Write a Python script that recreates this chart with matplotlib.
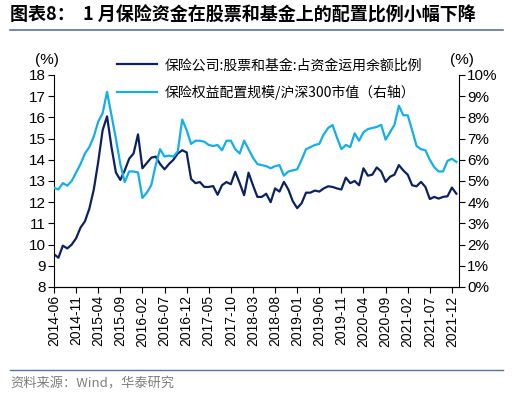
import numpy as np
import pandas as pd
import matplotlib.pyplot as plt

plt.rcParams['font.family'] = ['Liberation Sans', 'Noto Sans CJK SC', 'DejaVu Sans']

# monthly data 2014-06 .. 2022-01
months = pd.date_range('2014-06', periods=92, freq='MS').strftime('%Y-%m').tolist()

# 保险公司:股票和基金:占资金运用余额比例 (%), left axis
stock_fund = [9.55, 9.38, 9.95, 9.82, 10.0, 10.3, 10.8, 11.1, 11.7, 12.6,
              13.9, 15.4, 16.05, 14.6, 13.4, 13.05, 13.5, 14.05, 14.3, 15.2,
              13.6, 13.85, 14.1, 14.15, 13.8, 13.55, 13.8, 14.0, 14.3, 14.45,
              14.35, 13.1, 12.9, 12.95, 12.72, 12.72, 12.76, 12.35, 12.8, 12.95,
              12.85, 13.43, 12.9, 12.33, 13.39, 12.8, 12.25, 12.25, 12.4, 12.0,
              12.65, 12.5, 12.96, 12.6, 12.05, 11.72, 11.95, 12.45, 12.45, 12.55,
              12.5, 12.65, 12.75, 12.72, 12.65, 12.6, 13.16, 12.9, 13.0, 12.8,
              13.6, 13.25, 13.3, 13.64, 13.45, 12.96, 13.2, 13.3, 13.75, 13.5,
              13.3, 12.8, 12.75, 12.96, 12.72, 12.15, 12.25, 12.17, 12.25, 12.28,
              12.69, 12.4]

# 保险权益配置规模/沪深300市值 (%), right axis
equity_ratio = [4.68, 4.6, 4.9, 4.78, 5.0, 5.4, 5.8, 6.3, 6.6, 7.1,
                7.8, 8.2, 9.2, 8.1, 7.0, 5.8, 4.95, 5.45, 5.45, 5.4,
                4.2, 4.45, 4.8, 5.75, 6.5, 6.15, 6.2, 6.15, 6.4, 7.9,
                7.4, 6.75, 6.9, 6.9, 6.85, 6.7, 6.65, 6.7, 6.45, 6.9,
                6.9, 6.5, 6.3, 6.9, 6.5, 6.1, 5.8, 5.75, 5.7, 5.6,
                5.7, 5.75, 5.25, 5.45, 5.5, 5.55, 6.0, 6.5, 6.6, 6.7,
                6.75, 7.2, 7.5, 7.64, 7.05, 6.5, 6.7, 6.6, 7.25, 6.9,
                7.3, 7.45, 7.5, 7.55, 7.65, 6.95, 7.3, 7.65, 8.55, 8.1,
                8.1, 7.4, 6.65, 6.5, 6.45, 6.0, 5.65, 5.45, 5.45, 5.95,
                6.05, 5.9]

dark = '#0B2260'
light = '#14AEE8'
cjk = ['Noto Sans CJK SC', 'Liberation Sans']

fig = plt.figure(figsize=(5.16, 3.95), dpi=100)
ax = fig.add_axes([54/516, 1-287/395, (459-54)/516, (287-75)/395])
ax2 = ax.twinx()

x = np.arange(len(months))
l1, = ax.plot(x, stock_fund, color=dark, lw=1.6, label='保险公司:股票和基金:占资金运用余额比例')
l2, = ax2.plot(x, equity_ratio, color=light, lw=1.6, label='保险权益配置规模/沪深300市值（右轴）')

ax.set_xlim(0, 91.6)
ax.set_ylim(8, 18)
ax2.set_ylim(0, 10)
ax.set_yticks(range(8, 19))
ax2.set_yticks(range(0, 11))
ax2.set_yticklabels([f'{v}%' for v in range(0, 11)])
ax.set_xticks(x[::5])
ax.set_xticklabels(months[::5], rotation=90)

for a in (ax, ax2):
    a.spines['top'].set_visible(False)
    a.tick_params(direction='out', length=4, width=0.8, labelsize=11, pad=2)
ax.tick_params(axis='x', labelsize=10)
ax.spines['right'].set_visible(False)
ax2.spines['left'].set_visible(False)

ax.legend(handles=[l1, l2], loc='upper left', bbox_to_anchor=(0.142, 1.105),
          frameon=False, handlelength=2.9, handletextpad=0.5, labelspacing=0.9,
          borderaxespad=0, prop={'family': cjk, 'size': 10})

fig.text(47/516, 1-60/395, '(%)', ha='center', va='center', fontsize=11)
fig.text(462/516, 1-60/395, '(%)', ha='center', va='center', fontsize=11)

fig.text(10/516, 1-15/395, '图表8：  1 月保险资金在股票和基金上的配置比例小幅下降',
         ha='left', va='center', fontsize=13, fontweight='bold', family=cjk)
fig.add_artist(plt.Line2D([10/516, 503/516], [1-30/395, 1-30/395], color='#5B7396', lw=1.2))
fig.add_artist(plt.Line2D([10/516, 503/516], [1-370/395, 1-370/395], color='#5B7396', lw=1.0))
fig.text(10/516, 1-384/395, '资料来源：Wind，华泰研究', ha='left', va='center',
         fontsize=9.5, color='#7F7F7F', family=cjk)

fig.savefig('out.png', dpi=100)
